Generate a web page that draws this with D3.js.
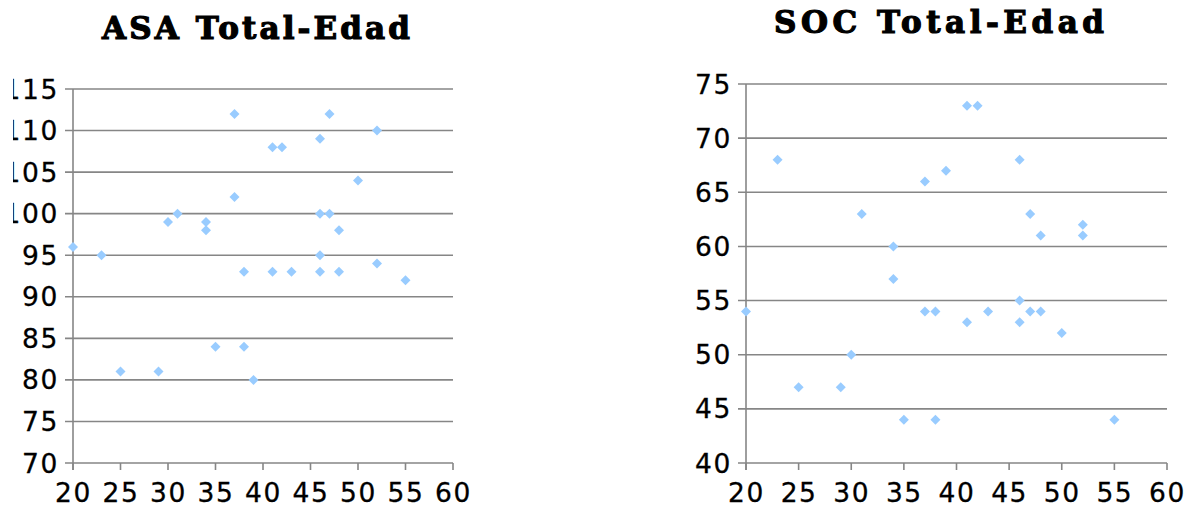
<!DOCTYPE html>
<html>
<head>
<meta charset="utf-8">
<script src="https://cdn.jsdelivr.net/npm/d3@7"></script>
<style>
  html, body { margin: 0; padding: 0; background: #fff; overflow: hidden; }
  svg { display: block; }
  .tick-label { font-family: "DejaVu Sans", sans-serif; font-size: 26.5px; letter-spacing: 1.6px; fill: #000; stroke: #000; stroke-width: 0.3px; }
  .title { font-family: "DejaVu Serif", serif; font-weight: bold; font-size: 31px; fill: #000; stroke: #000; stroke-width: 1.2px; }
</style>
</head>
<body>
<svg id="chart" width="1189" height="508"></svg>
<script>
// Age of each subject and the total score, per questionnaire
const asaEdad  = [37, 47, 52, 41, 42, 46, 50, 37, 30, 31, 34, 34, 46, 47, 48, 20, 23, 25, 29, 35, 38, 39, 38, 41, 43, 46, 46, 48, 52, 55];
const asaTotal = [112, 112, 110, 108, 108, 109, 104, 102, 99, 100, 99, 98, 100, 100, 98, 96, 95, 81, 81, 84, 84, 80, 93, 93, 93, 95, 93, 93, 94, 92];

const socEdad  = [23, 31, 34, 37, 39, 41, 42, 46, 47, 48, 52, 52, 34, 20, 37, 38, 41, 43, 46, 46, 47, 48, 50, 30, 25, 29, 35, 38, 55];
const socTotal = [68, 63, 60, 66, 67, 73, 73, 68, 63, 61, 62, 61, 57, 54, 54, 54, 53, 54, 55, 53, 54, 54, 52, 50, 47, 47, 44, 44, 44];

// Axis ticks
const edadTicks  = [20, 25, 30, 35, 40, 45, 50, 55, 60];
const asaTicks   = [70, 75, 80, 85, 90, 95, 100, 105, 110, 115];
const socTicks   = [40, 45, 50, 55, 60, 65, 70, 75];

const titles = ["ASA Total-Edad", "SOC Total-Edad"];

const svg = d3.select("#chart");
const gridColor = "#868686";
const markColor = "#99ccff";

// Clip so the widest left-hand labels run off the left edge
svg.append("defs").append("clipPath").attr("id", "pageClip")
  .append("rect").attr("x", 13).attr("y", 0).attr("width", 1189).attr("height", 508);

function drawPanel(opts) {
  const g = svg.append("g").attr("clip-path", "url(#pageClip)");
  const x = d3.scaleLinear().domain([20, 60]).range([opts.x0, opts.x1]);
  const y = d3.scaleLinear().domain([opts.yTicks[0], opts.yTicks[opts.yTicks.length - 1]]).range([opts.y0, opts.y1]);

  // horizontal gridlines (left tick included)
  g.append("g").selectAll("line").data(opts.yTicks).join("line")
    .attr("x1", opts.x0 - 8).attr("x2", opts.x1)
    .attr("y1", d => y(d)).attr("y2", d => y(d))
    .attr("stroke", gridColor).attr("stroke-width", 1.6);

  // vertical axis line
  g.append("line")
    .attr("x1", opts.x0).attr("x2", opts.x0)
    .attr("y1", y.range()[1]).attr("y2", opts.y0 + 7)
    .attr("stroke", gridColor).attr("stroke-width", 1.6);

  // x ticks below the axis
  g.append("g").selectAll("line").data(edadTicks).join("line")
    .attr("x1", d => x(d)).attr("x2", d => x(d))
    .attr("y1", opts.y0).attr("y2", opts.y0 + 7)
    .attr("stroke", gridColor).attr("stroke-width", 1.6);

  // y labels
  g.append("g").selectAll("text").data(opts.yTicks).join("text")
    .attr("class", "tick-label")
    .attr("x", opts.x0 - 14).attr("y", d => y(d))
    .attr("text-anchor", "end").attr("dominant-baseline", "central")
    .text(d => d);

  // x labels
  g.append("g").selectAll("text").data(edadTicks).join("text")
    .attr("class", "tick-label")
    .attr("x", d => x(d) + 0.5).attr("y", 502)
    .attr("text-anchor", "middle")
    .text(d => d);

  // diamond markers
  const sym = d3.symbol().type(d3.symbolSquare).size(50);
  g.append("g").selectAll("path").data(opts.xs.map((v, i) => [v, opts.ys[i]])).join("path")
    .attr("d", sym)
    .attr("transform", d => `translate(${x(d[0])},${y(d[1])}) rotate(45)`)
    .attr("fill", markColor);

  // title
  g.append("text").attr("class", "title")
    .attr("x", opts.tx).attr("y", opts.ty)
    .attr("text-anchor", "middle")
    .attr("textLength", opts.tw).attr("lengthAdjust", "spacing")
    .text(opts.title);
}

drawPanel({
  xs: asaEdad, ys: asaTotal, yTicks: asaTicks,
  x0: 73, x1: 453, y0: 463, y1: 89,
  title: titles[0], tx: 256, ty: 39, tw: 308
});

drawPanel({
  xs: socEdad, ys: socTotal, yTicks: socTicks,
  x0: 746, x1: 1167, y0: 463, y1: 84,
  title: titles[1], tx: 939, ty: 33, tw: 330
});
</script>
</body>
</html>
